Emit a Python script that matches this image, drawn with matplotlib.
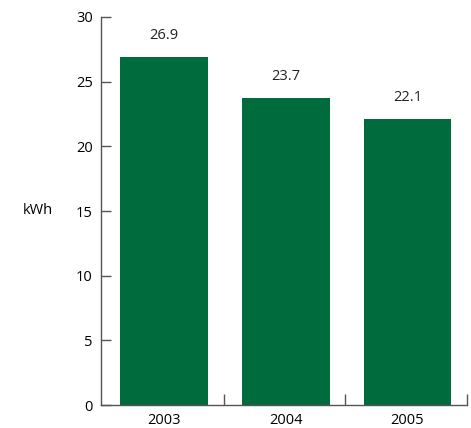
import matplotlib
matplotlib.use("Agg")
import matplotlib.pyplot as plt
import numpy as np

years = ['2003', '2004', '2005']
kwh = [26.9, 23.7, 22.1]
yticks = [0, 5, 10, 15, 20, 25, 30]

plt.rcParams['font.family'] = ['Open Sans', 'DejaVu Sans']

fig = plt.figure(figsize=(4.71, 4.28), dpi=100)
ax = fig.add_axes([0.2144, 0.0537, 0.7771, 0.9066])

x = np.arange(len(years))
ax.bar(x, kwh, width=0.72, color='#006b3c')
for xi, v in zip(x, kwh):
    ax.text(xi, v + 1.7, '%.1f' % v, ha='center', va='center', fontsize=10.5, color='#222222')

ax.set_xlim(-0.52, 2.49)
ax.set_ylim(0, 30)
ax.set_yticks(yticks)
ax.set_xticks(x)
ax.set_xticklabels(years, fontsize=10.5)
ax.set_xticks([0.49, 1.49, 2.49], minor=True)
ax.tick_params(axis='x', which='major', length=0, pad=6)
ax.tick_params(axis='x', which='minor', direction='in', length=8, color='#555555', width=1)
ax.tick_params(axis='y', direction='in', length=7, color='#555555', width=1, labelsize=10.5, pad=6)

for s in ['top', 'right']:
    ax.spines[s].set_visible(False)
for s in ['left', 'bottom']:
    ax.spines[s].set_color('#555555')
    ax.spines[s].set_linewidth(1)

fig.text(23/471, 1 - 211/428, 'kWh', ha='left', va='center', fontsize=10.5)

fig.savefig('out.png', dpi=100)
